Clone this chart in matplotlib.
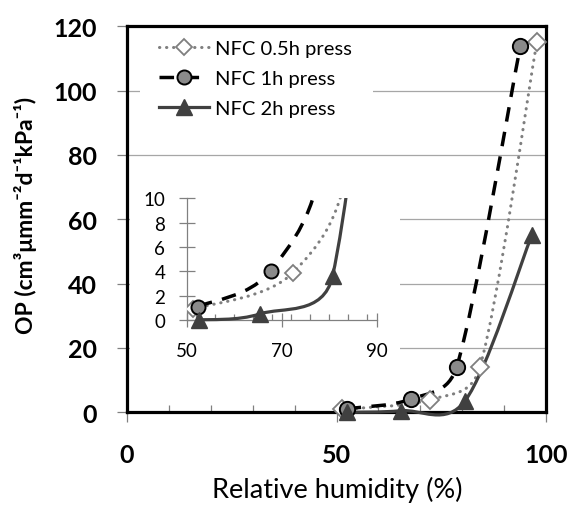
import numpy as np
import matplotlib
matplotlib.use('Agg')
import matplotlib.pyplot as plt
from matplotlib.path import Path
from matplotlib.patches import PathPatch, Rectangle
from matplotlib.ticker import FixedLocator, MultipleLocator
from matplotlib.lines import Line2D

plt.rcParams['font.family'] = ['Lato', 'DejaVu Sans']

# ---------------- data ----------------
series_names = ['NFC 0.5h press', 'NFC 1h press', 'NFC 2h press']
rh_05 = [51.4, 72.4, 84.2, 97.8]
op_05 = [0.9, 3.9, 14.0, 115.0]
rh_1 = [52.4, 67.7, 78.7, 93.9]
op_1 = [1.1, 4.05, 14.2, 114.0]
rh_2 = [52.5, 65.4, 80.7, 96.6]
op_2 = [0.0, 0.5, 3.6, 55.0]

main_xticks = [0, 50, 100]
main_yticks = [0, 20, 40, 60, 80, 100, 120]
inset_xticks = [50, 70, 90]
inset_yticks = [0, 2, 4, 6, 8, 10]

# ---------------- layout ----------------
W, H = 572, 506
fig = plt.figure(figsize=(W / 100, H / 100), dpi=100)


def fx(px):
    return px / W


def fy(py):
    return 1 - py / H


GRAY = '#808080'
DARK = '#404040'

styles = [
    dict(color='#7f7f7f', ls=(0, (0.1, 2.2)), lw=2.2, marker='D', ms=9,
         mfc='white', mec='#7f7f7f', mew=1.3, cap='round'),
    dict(color='black', ls=(0, (4.2, 3.0)), lw=2.5, marker='o', ms=11,
         mfc='#8a8a8a', mec='black', mew=1.4, cap='butt'),
    dict(color=DARK, ls='-', lw=2.3, marker='^', ms=12,
         mfc=DARK, mec=DARK, mew=1.0, cap='butt'),
]
series = [(rh_05, op_05), (rh_1, op_1), (rh_2, op_2)]


def excel_smooth_path(a, xs, ys):
    pts = a.transData.transform(np.column_stack([xs, ys]))
    n = len(pts)
    verts = [pts[0]]
    codes = [Path.MOVETO]
    for i in range(n - 1):
        p0 = pts[i - 1] if i > 0 else pts[i]
        p1 = pts[i]
        p2 = pts[i + 1]
        p3 = pts[i + 2] if i + 2 < n else pts[i + 1]
        d02 = np.hypot(*(p2 - p0))
        d12 = np.hypot(*(p2 - p1))
        d13 = np.hypot(*(p3 - p1))
        f1 = 1 / 6 if d02 / 6 < d12 / 2 else d12 / (2 * d02)
        f2 = 1 / 6 if d13 / 6 < d12 / 2 else d12 / (2 * d13)
        c1 = p1 + (p2 - p0) * f1
        c2 = p2 - (p3 - p1) * f2
        verts += [c1, c2, p2]
        codes += [Path.CURVE4] * 3
    inv = a.transData.inverted()
    return Path(inv.transform(np.array(verts)), codes)


# ---------------- main axes ----------------
ax = fig.add_axes([fx(127), fy(413.3), fx(546) - fx(127), (413.3 - 27.3) / H])
ax.set_xlim(0, 100)
ax.set_ylim(0, 120)
ax.set_axisbelow(True)
ax.yaxis.set_major_locator(FixedLocator(main_yticks))
ax.xaxis.set_major_locator(FixedLocator(main_xticks))
ax.xaxis.set_minor_locator(MultipleLocator(10))
ax.grid(axis='y', color='#a6a6a6', lw=0.9)
for s in ax.spines.values():
    s.set_linewidth(2.3)
    s.set_color('black')
ax.tick_params(axis='y', which='major', direction='out', length=7.2, width=0.9,
               color=GRAY, pad=14.5, labelsize=18)
ax.tick_params(axis='x', which='major', direction='out', length=7.2, width=0.9,
               color=GRAY, pad=15, labelsize=18)
ax.tick_params(axis='x', which='minor', direction='in', length=5, width=0.9,
               color=GRAY)
for lab in ax.get_xticklabels() + ax.get_yticklabels():
    lab.set_fontweight('bold')

# white areas (legend and inset backgrounds)
ax.add_patch(Rectangle((fx(140), fy(128)), fx(373) - fx(140), (128 - 30) / H,
                       transform=fig.transFigure, facecolor='white',
                       edgecolor='none', zorder=1))
ax.add_patch(Rectangle((fx(129.5), fy(372)), fx(400) - fx(129.5), (372 - 168) / H,
                       transform=fig.transFigure, facecolor='white',
                       edgecolor='none', zorder=1))

for (xs, ys), st in zip(series, styles):
    pp = PathPatch(excel_smooth_path(ax, xs, ys), fill=False, edgecolor=st['color'],
                   linewidth=st['lw'], linestyle=st['ls'], capstyle=st['cap'],
                   zorder=3, clip_on=False)
    ax.add_patch(pp)
for (xs, ys), st in zip(series, styles):
    ax.plot(xs, ys, linestyle='none', marker=st['marker'], ms=st['ms'],
            mfc=st['mfc'], mec=st['mec'], mew=st['mew'], zorder=4, clip_on=False)

# legend
handles = []
for st in styles:
    h = Line2D([], [], color=st['color'], lw=st['lw'], linestyle=st['ls'],
               marker=st['marker'], ms=st['ms'] * 0.92, mfc=st['mfc'],
               mec=st['mec'], mew=st['mew'], dash_capstyle=st['cap'])
    handles.append(h)
leg = ax.legend(handles, series_names, loc='upper left',
                bbox_to_anchor=(fx(159), fy(41)), bbox_transform=fig.transFigure,
                frameon=False, fontsize=14.5, handlelength=2.5, handletextpad=0.3,
                borderpad=0, borderaxespad=0, labelspacing=0.64)
leg.set_zorder(5)

# axis titles
fig.text(fx(26), fy(334), 'OP (cm³μmm⁻²d⁻¹kPa⁻¹)', rotation=90, ha='center',
         va='bottom', fontsize=16.5, fontweight='bold')
fig.text(fx(463), fy(490), 'Relative humidity (%)', ha='right', va='center',
         fontsize=19.5)

# ---------------- inset ----------------
axi = fig.add_axes([fx(186.7), fy(321), fx(376.7) - fx(186.7), (321 - 199.3) / H])
axi.set_zorder(3)
axi.patch.set_alpha(0)
axi.set_xlim(50, 90)
axi.set_ylim(0, 10)
axi.xaxis.set_major_locator(FixedLocator(inset_xticks))
axi.yaxis.set_major_locator(FixedLocator(inset_yticks))
axi.xaxis.set_minor_locator(MultipleLocator(4))
for k in ['top', 'right']:
    axi.spines[k].set_visible(False)
for k in ['left', 'bottom']:
    axi.spines[k].set_color(GRAY)
    axi.spines[k].set_linewidth(0.9)
axi.tick_params(axis='y', direction='inout', length=11, width=0.9, color=GRAY,
                pad=10, labelsize=13.5)
axi.tick_params(axis='x', which='major', direction='inout', length=9.5, width=0.9,
                color=GRAY, pad=11, labelsize=13.5)
axi.tick_params(axis='x', which='minor', direction='in', length=4.5, width=0.9,
                color=GRAY)

clip = Rectangle((0, -0.12), 1, 1.12, transform=axi.transAxes)
for (xs, ys), st in zip(series, styles):
    pp = PathPatch(excel_smooth_path(axi, xs, ys), fill=False, edgecolor=st['color'],
                   linewidth=st['lw'], linestyle=st['ls'], capstyle=st['cap'],
                   zorder=3)
    axi.add_patch(pp)
    pp.set_clip_path(clip)
for (xs, ys), st in zip(series, styles):
    ln, = axi.plot(xs, ys, linestyle='none', marker=st['marker'], ms=st['ms'] * 0.92,
                   mfc=st['mfc'], mec=st['mec'], mew=st['mew'], zorder=4)
    ln.set_clip_path(clip)

fig.savefig('out.png', dpi=100)
